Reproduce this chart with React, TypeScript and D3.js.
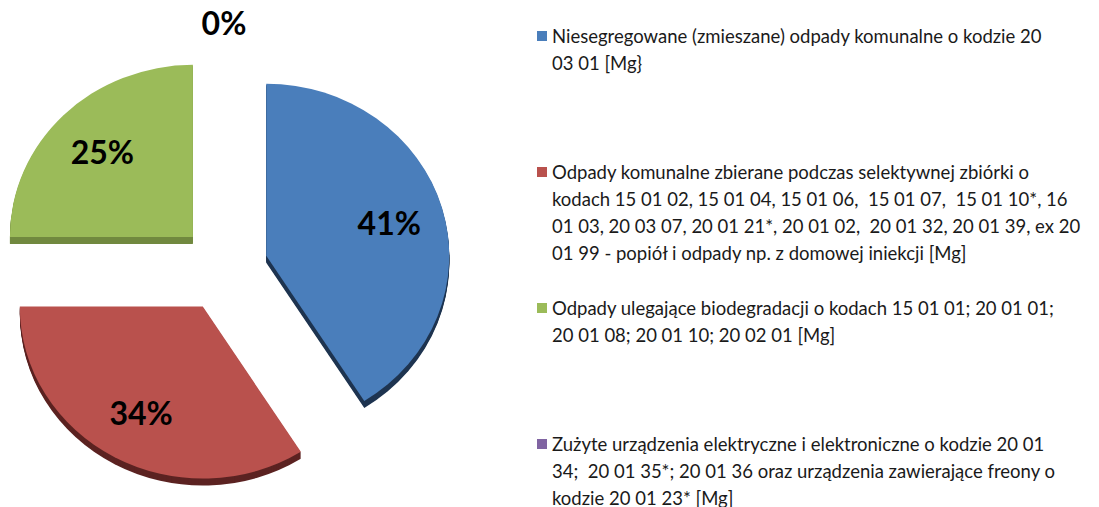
import React, { useEffect, useRef } from "react";
import * as d3 from "d3";

// share of each waste category (percent)
const categories = [
  "Niesegregowane",
  "Selektywna zbiórka",
  "Biodegradowalne",
  "Zużyty sprzęt elektryczny",
];
const values = [41, 34, 25, 0];
const colors = ["#4a7ebb", "#b9514d", "#9bbb59", "#8064a2"];
const sideColors = ["#1e3450", "#5c2322", "#71893f", "#4a3a60"];

// legend text, broken into lines as in the original
const legendLines = [
  ["Niesegregowane (zmieszane) odpady komunalne o kodzie 20", "03 01 [Mg}"],
  [
    "Odpady komunalne zbierane podczas selektywnej zbiórki o",
    "kodach 15 01 02, 15 01 04, 15 01 06,  15 01 07,  15 01 10*, 16",
    "01 03, 20 03 07, 20 01 21*, 20 01 02,  20 01 32, 20 01 39, ex 20",
    "01 99 - popiół i odpady np. z domowej iniekcji [Mg]",
  ],
  ["Odpady ulegające biodegradacji o kodach 15 01 01; 20 01 01;", "20 01 08; 20 01 10; 20 02 01 [Mg]"],
  [
    "Zużyte urządzenia elektryczne i elektroniczne o kodzie 20 01",
    "34;  20 01 35*; 20 01 36 oraz urządzenia zawierające freony o",
    "kodzie 20 01 23* [Mg]",
  ],
];

const App = () => {
  const ref = useRef<SVGSVGElement>(null);

  useEffect(() => {
    const width = 1099;
    const height = 507;
    const cx = 224;
    const cy = 268;
    const rx = 183;
    const sy = 0.94; // tilt
    const explode = 44;
    const depth = 7;

    const svg = d3.select(ref.current);
    svg.selectAll("*").remove();
    svg.attr("width", width).attr("height", height);

    const pie = d3.pie<number>().sort(null).value((d) => d);
    const arcs = pie(values);
    const arc = d3.arc<d3.PieArcDatum<number>>().innerRadius(0).outerRadius(rx);

    const apex = (a: d3.PieArcDatum<number>) => {
      const mid = (a.startAngle + a.endAngle) / 2;
      return [cx + Math.sin(mid) * explode, cy - Math.cos(mid) * explode];
    };

    const g = svg.append("g");

    // sides (extruded downwards)
    arcs.forEach((a, i) => {
      if (a.endAngle - a.startAngle <= 0) return;
      const [x, y] = apex(a);
      for (let k = depth; k >= 1; k--) {
        g.append("path")
          .attr("d", arc(a))
          .attr("transform", `translate(${x},${y + k}) scale(1,${sy})`)
          .attr("fill", sideColors[i]);
      }
    });

    // top faces
    arcs.forEach((a, i) => {
      if (a.endAngle - a.startAngle <= 0) return;
      const [x, y] = apex(a);
      g.append("path")
        .attr("d", arc(a))
        .attr("transform", `translate(${x},${y}) scale(1,${sy})`)
        .attr("fill", colors[i]);
    });

    // percentage labels
    arcs.forEach((a) => {
      const [x, y] = apex(a);
      const mid = (a.startAngle + a.endAngle) / 2;
      const r = a.endAngle - a.startAngle > 0 ? rx * 0.7 : rx * 1.17;
      g.append("text")
        .attr("x", x + Math.sin(mid) * r)
        .attr("y", y - Math.cos(mid) * r * sy)
        .attr("text-anchor", "middle")
        .attr("dominant-baseline", "central")
        .style("font-family", "Lato, 'Open Sans', sans-serif")
        .style("font-weight", "bold")
        .style("font-size", "32px")
        .style("fill", "#000")
        .text(`${Math.round(a.value)}%`);
    });

    // legend
    const rowY = d3.scaleLinear().domain([0, 1]).range([36, 172]);
    const lineH = 27;
    const leg = svg.append("g");
    legendLines.forEach((lines, i) => {
      const y0 = rowY(i);
      leg.append("rect")
        .attr("x", 537)
        .attr("y", y0 - 5)
        .attr("width", 10)
        .attr("height", 10)
        .attr("fill", colors[i]);
      lines.forEach((line, j) => {
        leg.append("text")
          .attr("x", 552)
          .attr("y", y0 + j * lineH)
          .attr("dominant-baseline", "central")
          .attr("xml:space", "preserve")
          .style("white-space", "pre")
          .style("font-family", "Lato, 'Open Sans', sans-serif")
          .style("font-size", "18.5px")
          .style("fill", "#1a1a1a")
          .text(line);
      });
    });
  }, []);

  return (
    <svg
      ref={ref}
      style={{ position: "absolute", left: 0, top: 0, background: "#fff" }}
      aria-label={categories.join(", ")}
    ></svg>
  );
};

export default App;
